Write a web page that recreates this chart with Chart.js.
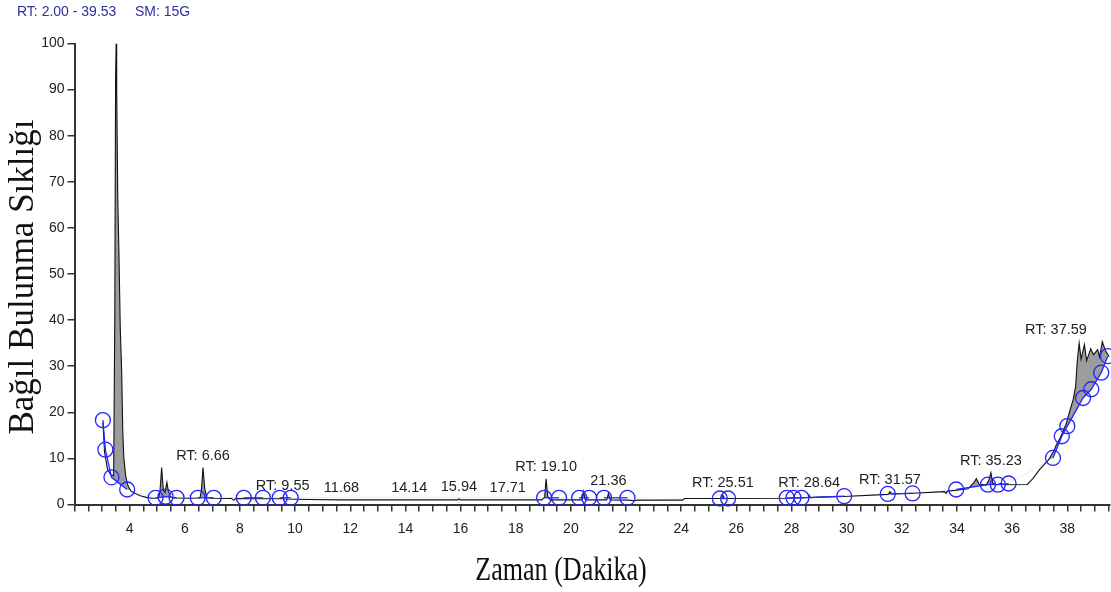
<!DOCTYPE html>
<html>
<head>
<meta charset="utf-8">
<script src="https://cdn.jsdelivr.net/npm/chart.js@4/dist/chart.umd.min.js"></script>
<style>
  html, body { margin: 0; padding: 0; background: #fff; }
  #wrap { width: 1111px; height: 592px; }
</style>
</head>
<body>
<div id="wrap"><canvas id="chrom" width="1111" height="592"></canvas></div>
<script>
// Total ion chromatogram: retention time (min) vs relative abundance (%)
const traceTime = [
  3.03, 3.09, 3.20, 3.31, 3.42, 3.46, 3.49, 3.51, 3.53, 3.57, 3.61, 3.66, 3.71, 3.75, 3.79, 3.86, 3.95,
  4.05, 4.20, 4.39, 4.60, 4.80, 5.05, 5.10, 5.16, 5.22, 5.28, 5.35, 5.40, 5.48, 5.60, 6.20, 6.55, 6.60,
  6.66, 6.72, 6.80, 7.00, 7.70, 7.78, 7.84, 8.60, 9.50, 9.55, 9.60, 10.50, 11.68, 14.14, 15.90, 15.94,
  16.00, 17.71, 18.95, 19.05, 19.10, 19.16, 19.25, 20.40, 20.46, 20.52, 21.30, 21.36, 21.42, 22.10,
  22.30, 22.40, 24.05, 24.12, 25.45, 25.51, 25.57, 27.90, 28.60, 28.64, 28.68, 29.00, 29.90, 31.50,
  31.57, 31.64, 32.40, 33.55, 33.60, 33.65, 34.00, 34.40, 34.62, 34.70, 34.80, 35.05, 35.15, 35.23,
  35.30, 35.45, 35.60, 35.70, 36.55, 36.75, 37.00, 37.31, 37.53, 37.59, 37.74, 37.96, 38.10, 38.21,
  38.30, 38.36, 38.43, 38.50, 38.62, 38.70, 38.85, 38.95, 39.10, 39.17, 39.27, 39.38, 39.53
];
const traceAbund = [
  17.8, 11.3, 7.6, 6.5, 6.2, 40, 92, 100, 90, 66, 55, 38, 29, 16, 10, 6.0, 3.9,
  2.9, 2.4, 1.9, 1.55, 1.35, 1.4, 3.0, 8.0, 3.2, 2.6, 4.8, 3.0, 1.6, 1.4, 1.35, 1.4, 3.0,
  8.0, 3.5, 1.5, 1.35, 1.3, 0.9, 1.3, 1.25, 1.25, 1.4, 1.2, 1.1, 1.0, 1.0, 1.0, 1.2,
  1.0, 1.0, 1.0, 1.6, 5.6, 1.8, 1.0, 1.0, 2.8, 1.0, 1.0, 2.4, 1.0, 0.95,
  0.8, 0.95, 0.95, 1.3, 1.3, 2.0, 1.3, 1.35, 1.5, 2.0, 1.5, 1.6, 1.75, 2.2,
  2.8, 2.3, 2.45, 2.8, 2.4, 2.9, 3.1, 3.4, 4.8, 5.6, 4.4, 4.2, 5.2, 6.9,
  4.6, 4.3, 4.6, 4.3, 4.35, 5.6, 7.6, 9.6, 11.8, 12.8, 14.4, 17.5, 20.5, 22.7,
  25.5, 31.0, 35.0, 31.5, 34.7, 31.2, 33.8, 32.5, 33.6, 32.0, 35.3, 33.4, 32.0
];

// Integration baseline markers (peak start / end points) and their peak groups
const baseTime  = [3.03, 3.12, 3.34, 3.91, 4.94, 5.30, 5.70, 6.47, 7.05, 8.14, 8.83, 9.44, 9.84,
                   19.03, 19.57, 20.30, 20.66, 21.20, 22.05, 25.40, 25.70, 27.83, 28.07, 28.36, 29.91,
                   31.49, 32.39, 33.97, 35.12, 35.48, 35.87, 37.48, 37.80, 38.00, 38.57, 38.87, 39.23, 39.47];
const baseAbund = [18.3, 11.9, 5.9, 3.25, 1.45, 1.7, 1.45, 1.45, 1.45, 1.45, 1.45, 1.45, 1.45,
                   1.45, 1.45, 1.45, 1.45, 1.45, 1.45, 1.3, 1.3, 1.45, 1.45, 1.45, 1.8,
                   2.3, 2.4, 3.25, 4.3, 4.3, 4.55, 10.1, 14.8, 17.0, 23.1, 25.0, 28.6, 32.2];
const baseGroup = [1, 1, 1, 1, 2, 2, 2, 3, 3, 4, 4, 5, 5,
                   6, 6, 7, 7, 8, 8, 9, 9, 10, 10, 10, 10,
                   11, 11, 12, 12, 12, 12, 13, 13, 13, 13, 13, 13, 13];

// Labelled peaks: retention time, apex abundance, whether the "RT:" prefix is shown
const peakRT     = [6.66, 9.55, 11.68, 14.14, 15.94, 17.71, 19.10, 21.36, 25.51, 28.64, 31.57, 35.23, 37.59];
const peakApex   = [8.0, 1.4, 1.0, 1.0, 1.2, 1.0, 5.6, 2.4, 2.0, 2.0, 2.8, 6.9, 35.3];
const peakPrefix = [true, true, false, false, false, false, true, false, true, true, true, true, true];

const rtRange = [2.00, 39.53];
const smoothing = 'SM: 15G';
const xTitle = 'Zaman (Dakika)';
const yTitle = 'Bağıl Bulunma Sıklığı';

const SANS = '"Liberation Sans", Arial, sans-serif';
const SERIF = '"Liberation Serif", "Times New Roman", serif';

const textLayer = {
  id: 'textLayer',
  afterDraw(chart) {
    const { ctx, scales: { x, y } } = chart;
    ctx.save();
    // peak labels
    ctx.font = '14.5px ' + SANS;
    ctx.fillStyle = '#222';
    ctx.textAlign = 'center';
    ctx.textBaseline = 'middle';
    peakRT.forEach((rt, i) => {
      const txt = (peakPrefix[i] ? 'RT: ' : '') + rt.toFixed(2);
      ctx.fillText(txt, x.getPixelForValue(rt), y.getPixelForValue(peakApex[i]) - 12);
    });
    // header line
    ctx.font = '14px ' + SANS;
    ctx.fillStyle = '#2f2f9c';
    ctx.textAlign = 'left';
    ctx.fillText('RT: ' + rtRange[0].toFixed(2) + ' - ' + rtRange[1].toFixed(2), 17, 12.5);
    ctx.fillText(smoothing, 135, 12.5);
    // axis titles
    ctx.fillStyle = '#111';
    ctx.textBaseline = 'alphabetic';
    ctx.textAlign = 'center';
    ctx.save();
    ctx.translate(33, 277);
    ctx.rotate(-Math.PI / 2);
    ctx.font = '35px ' + SERIF;
    ctx.fillText(yTitle, 0, 0);
    ctx.restore();
    ctx.save();
    ctx.translate(561, 580);
    ctx.scale(0.79, 1);
    ctx.font = '33px ' + SERIF;
    ctx.fillText(xTitle, 0, 0);
    ctx.restore();
    ctx.restore();
  }
};

const blue = '#2424ff';

new Chart(document.getElementById('chrom'), {
  type: 'line',
  data: {
    datasets: [
      {
        data: traceTime.map((t, i) => ({ x: t, y: traceAbund[i] })),
        borderColor: '#111',
        borderWidth: 1.1,
        pointRadius: 0,
        tension: 0,
        fill: { target: 1, above: '#9c9c9c', below: 'rgba(0,0,0,0)' },
        order: 2
      },
      {
        data: baseTime.map((t, i) => ({ x: t, y: baseAbund[i] })),
        borderColor: blue,
        borderWidth: 1.3,
        pointRadius: 7.5,
        pointBorderWidth: 1.3,
        pointBorderColor: blue,
        pointBackgroundColor: 'rgba(0,0,0,0)',
        tension: 0,
        fill: false,
        clip: false,
        segment: {
          borderColor: c => baseGroup[c.p0DataIndex] === baseGroup[c.p1DataIndex] ? blue : 'rgba(0,0,0,0)'
        },
        order: 1
      }
    ]
  },
  options: {
    responsive: false,
    animation: false,
    events: [],
    layout: { autoPadding: false, padding: { top: 43.5, left: 0, right: 1.5, bottom: 0 } },
    plugins: { legend: { display: false }, tooltip: { enabled: false }, title: { display: false } },
    scales: {
      x: {
        type: 'linear',
        min: rtRange[0],
        max: rtRange[1],
        afterFit: s => { s.height = 87.5; s.paddingLeft = 0; s.paddingRight = 0; },
        border: { display: true, color: '#333', width: 2 },
        grid: { drawOnChartArea: false, drawTicks: true, tickLength: 7, color: '#333', lineWidth: 1.5 },
        ticks: {
          stepSize: 0.5,
          includeBounds: false,
          autoSkip: false,
          maxRotation: 0,
          padding: 9.5,
          color: '#222',
          font: { family: SANS, size: 14 },
          callback: v => {
            const r = Math.round(v);
            return (Math.abs(v - r) < 1e-6 && r % 2 === 0 && r >= 4) ? String(r) : '';
          }
        }
      },
      y: {
        min: 0,
        max: 100,
        afterFit: s => { s.width = 74.5; },
        border: { display: true, color: '#333', width: 2 },
        grid: { drawOnChartArea: false, drawTicks: true, tickLength: 7, color: '#333', lineWidth: 1.5 },
        ticks: {
          stepSize: 10,
          padding: 3,
          color: '#222',
          font: { family: SANS, size: 14 }
        }
      }
    }
  },
  plugins: [textLayer]
});
</script>
</body>
</html>
